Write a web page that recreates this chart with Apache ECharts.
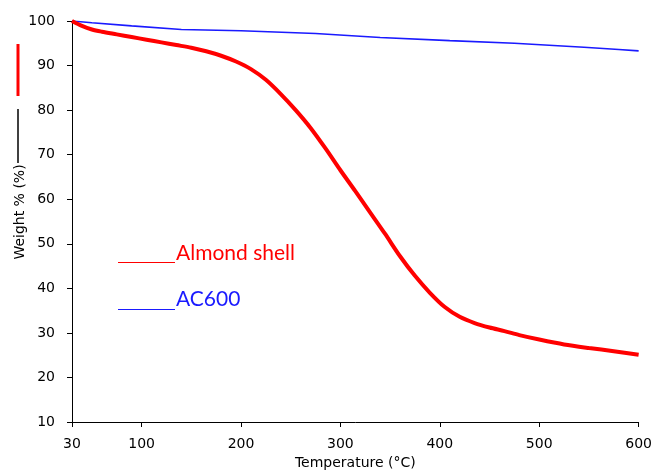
<!DOCTYPE html>
<html>
<head>
<meta charset="utf-8">
<script src="https://cdn.jsdelivr.net/npm/echarts@6/dist/echarts.min.js"></script>
<style>
  html, body { margin: 0; padding: 0; background: #fff; }
  #chart { width: 655px; height: 475px; }
</style>
</head>
<body>
<div id="chart"></div>
<script>
// Temperature ticks shown on the x axis
const xTicks = [30, 100, 200, 300, 400, 500, 600];

// Almond shell TGA curve: temperature (°C) and weight (%)
const almondTemp = [30, 40, 50, 60, 75, 90, 105, 120, 135, 150, 165, 180, 195, 210, 225, 240, 255, 270, 285, 300, 315, 330, 345, 360, 375, 390, 405, 420, 435, 450, 465, 480, 500, 525, 550, 575, 600];
const almondWeight = [100, 98.9, 98.1, 97.6, 97.0, 96.4, 95.8, 95.2, 94.6, 94.0, 93.2, 92.2, 90.9, 89.2, 86.8, 83.6, 80.0, 76.0, 71.4, 66.5, 61.8, 57.0, 52.2, 47.2, 42.8, 39.0, 35.8, 33.6, 32.2, 31.2, 30.4, 29.5, 28.5, 27.4, 26.6, 25.9, 25.1];

// AC600 TGA curve
const acTemp = [30, 50, 90, 140, 200, 275, 340, 410, 475, 545, 580, 600];
const acWeight = [100, 99.6, 98.9, 98.1, 97.8, 97.2, 96.3, 95.6, 95.0, 94.1, 93.6, 93.3];

const zip = (a, b) => a.map((v, i) => [v, b[i]]);

const chart = echarts.init(document.getElementById('chart'));
const axisFont = { fontFamily: '"DejaVu Sans", Verdana, sans-serif', fontSize: 14, color: '#000' };

chart.setOption({
  animation: false,
  backgroundColor: '#fff',
  grid: { left: 72, right: 16, top: 21, bottom: 53 },
  xAxis: {
    type: 'value',
    min: 30,
    max: 600,
    name: 'Temperature (°C)',
    nameLocation: 'middle',
    nameGap: 27,
    nameTextStyle: axisFont,
    axisLine: { lineStyle: { color: '#000', width: 1 } },
    axisTick: { show: true, length: 5, customValues: xTicks, lineStyle: { color: '#000' } },
    axisLabel: { ...axisFont, margin: 15, customValues: xTicks },
    splitLine: { show: false }
  },
  yAxis: {
    type: 'value',
    min: 10,
    max: 100,
    interval: 10,
    axisLine: { show: true, lineStyle: { color: '#000', width: 1 } },
    axisTick: { show: true, length: 5, lineStyle: { color: '#000' } },
    axisLabel: { ...axisFont, margin: 17 },
    splitLine: { show: false }
  },
  series: [
    {
      name: 'AC600',
      type: 'line',
      data: zip(acTemp, acWeight),
      showSymbol: false,
      lineStyle: { color: '#1a1aff', width: 1.6 },
      z: 2
    },
    {
      name: 'Almond shell',
      type: 'line',
      data: zip(almondTemp, almondWeight),
      showSymbol: false,
      smooth: 0.3,
      lineStyle: { color: '#ff0000', width: 4 },
      z: 3
    }
  ],
  graphic: [
    // y-axis title with its key strokes
    { type: 'line', shape: { x1: 18, y1: 44, x2: 18, y2: 96 }, style: { stroke: '#ff0000', lineWidth: 3 } },
    { type: 'line', shape: { x1: 18, y1: 109, x2: 18, y2: 163 }, style: { stroke: '#000', lineWidth: 1.5 } },
    {
      type: 'text', x: 20, y: 212, rotation: Math.PI / 2,
      style: { text: 'Weight % (%)', fill: '#000', font: '14px "DejaVu Sans", Verdana, sans-serif', align: 'center', verticalAlign: 'middle' }
    },
    // in-plot key
    { type: 'line', shape: { x1: 118, y1: 262.5, x2: 175, y2: 262.5 }, style: { stroke: '#ff0000', lineWidth: 1 } },
    {
      type: 'text', x: 176, y: 253,
      style: { text: 'Almond shell', fill: '#ff0000', font: '21px Lato, "Open Sans", sans-serif', align: 'left', verticalAlign: 'middle' }
    },
    { type: 'line', shape: { x1: 118, y1: 309.5, x2: 175, y2: 309.5 }, style: { stroke: '#1a1aff', lineWidth: 1 } },
    {
      type: 'text', x: 176, y: 299,
      style: { text: 'AC600', fill: '#1a1aff', font: '21px Lato, "Open Sans", sans-serif', align: 'left', verticalAlign: 'middle' }
    }
  ]
});
</script>
</body>
</html>
